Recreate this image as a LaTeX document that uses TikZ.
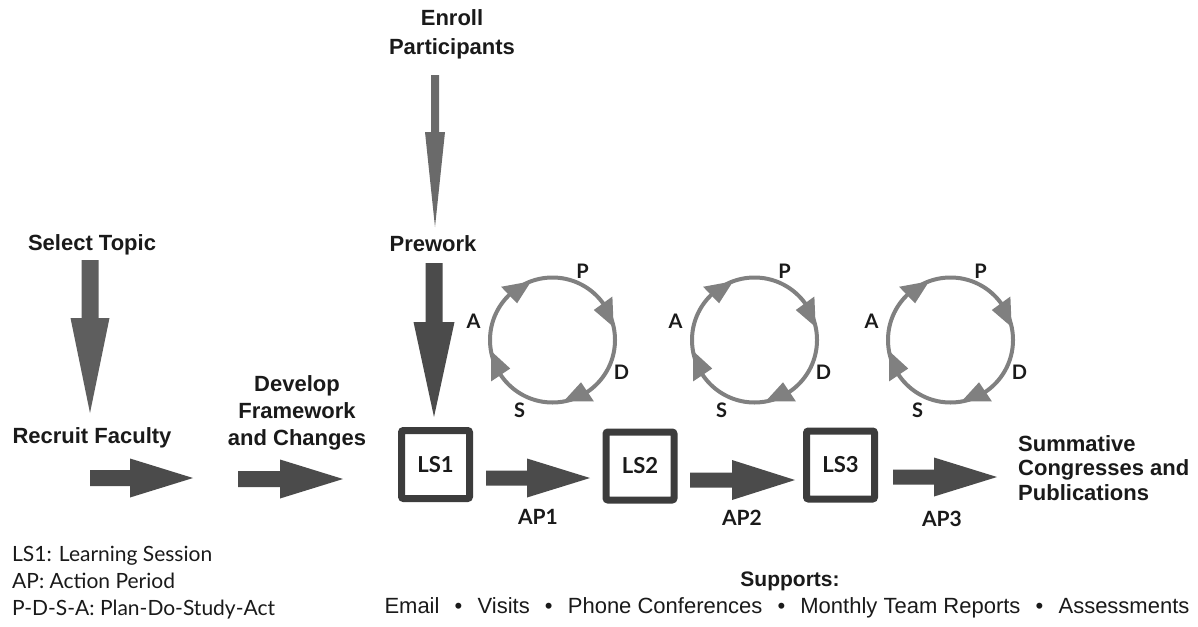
\documentclass[tikz,border=0pt]{standalone}
\usepackage{fontspec}
\setmainfont{Liberation Sans}
\newfontfamily\lato{Lato}
\usetikzlibrary{calc}
\definecolor{arrowdark}{HTML}{4B4B4B}
\definecolor{arrowmid}{HTML}{5E5E5E}
\definecolor{arrowlight}{HTML}{6A6A6A}
\definecolor{cycgray}{HTML}{808080}
\definecolor{boxgray}{HTML}{3C3C3C}
\definecolor{txt}{HTML}{1A1A1A}
% #1 style, #2 tail, #3 tip, #4 shaft half width, #5 head half width, #6 head length
\newcommand\fatarrow[6]{%
  \path ($(#3)!#6!(#2)$) coordinate (fa-neck);
  \fill[#1] ($(#2)!#4!90:(#3)$) -- ($(fa-neck)!#4!90:(#3)$) -- ($(fa-neck)!#5!90:(#3)$)
    -- (#3) -- ($(fa-neck)!#5!-90:(#3)$) -- ($(fa-neck)!#4!-90:(#3)$)
    -- ($(#2)!#4!-90:(#3)$) -- cycle;}
% #1 centre, #2 tip angle, #3 base angle
\newcommand\cychead[3]{%
  \fill[cycgray] ($(#1)+(#2:62.5pt)$) -- ($(#1)+(#3:51pt)$) -- ($(#1)+(#3:74pt)$) -- cycle;}
\newcommand\supsep{\hspace{6pt plus 1fil}\textbullet\hspace{6pt plus 1fil}}
\tikzset{
  heavy/.style={font=\fontsize{22}{29}\selectfont\bfseries, text=txt, inner sep=0pt},
  letter/.style={font=\lato\fontsize{20}{24}\selectfont\bfseries, text=txt, inner sep=0pt},
  aplabel/.style={font=\lato\fontsize{21}{24}\selectfont\bfseries, text=txt, inner sep=0pt},
  lsbox/.style={draw=boxgray, line width=7pt, rounded corners=2pt, fill=white,
    minimum width=68pt, minimum height=68pt, inner sep=0pt,
    font=\lato\fontsize{22}{26}\selectfont\bfseries, text=txt},
  cycle/.style={draw=cycgray, line width=4pt},
}
\begin{document}
\begin{tikzpicture}[x=1pt, y=-1pt]
\useasboundingbox (0,0) rectangle (1198,626);
\fill[white] (0,0) rectangle (1198,626);

% text nodes
\node[heavy, align=center] (enroll) at (452,34) {Enroll\\Participants};
\node[heavy] (prework) at (433,244) {Prework};
\node[heavy] (select) at (92,245) {Select Topic};
\node[heavy] (recruit) at (92,438) {Recruit Faculty};
\node[heavy, align=center, font=\fontsize{22}{27}\selectfont\bfseries] (develop) at (297,413) {Develop\\Framework\\and Changes};
\node[heavy, align=left, anchor=west, font=\fontsize{22}{24.5}\selectfont\bfseries] (summ) at (1018,468) {Summative\\Congresses and\\Publications};

% LS boxes
\node[lsbox] (ls1) at (435.5,464.5) {LS1};
\node[lsbox] (ls2) at (640,466) {LS2};
\node[lsbox] (ls3) at (840.5,465) {LS3};

% AP labels
\node[aplabel] (ap1) at (538,517) {AP1};
\node[aplabel] (ap2) at (742,518) {AP2};
\node[aplabel] (ap3) at (942,519) {AP3};

% arrow coordinates
\coordinate (enroll-t) at (435,75);   \coordinate (enroll-h) at (435,227);
\coordinate (prework-t) at (434,263); \coordinate (prework-h) at (434,417);
\coordinate (select-t) at (90,260);   \coordinate (select-h) at (90,413);
\coordinate (r1-t) at (90,478);       \coordinate (r1-h) at (193,478);
\coordinate (r2-t) at (238,479);      \coordinate (r2-h) at (343,479);
\coordinate (a1-t) at (486,478);      \coordinate (a1-h) at (590,478);
\coordinate (a2-t) at (690,480);      \coordinate (a2-h) at (795,480);
\coordinate (a3-t) at (893,477);      \coordinate (a3-h) at (997,477);

\fatarrow{arrowlight}{enroll-t}{enroll-h}{4pt}{10pt}{95pt}
\fatarrow{arrowdark}{prework-t}{prework-h}{8.5pt}{20.5pt}{95pt}
\fatarrow{arrowmid}{select-t}{select-h}{8.5pt}{19.5pt}{95pt}
\fatarrow{arrowdark}{r1-t}{r1-h}{8pt}{19.5pt}{63pt}
\fatarrow{arrowdark}{r2-t}{r2-h}{8pt}{19.5pt}{63pt}
\fatarrow{arrowdark}{a1-t}{a1-h}{7.5pt}{19.5pt}{63pt}
\fatarrow{arrowdark}{a2-t}{a2-h}{7.5pt}{20pt}{63pt}
\fatarrow{arrowdark}{a3-t}{a3-h}{7.5pt}{19.5pt}{63pt}

% PDSA cycles
\foreach \i/\cx in {1/552.5, 2/754.5, 3/950.5} {
  \coordinate (c\i) at (\cx,340);
  \draw[cycle] (c\i) circle[radius=62.5pt];
  \cychead{c\i}{110}{134}
  \cychead{c\i}{12}{36}
  \cychead{c\i}{-80}{-56}
  \cychead{c\i}{190}{214}
  \node[letter] (p\i) at ($(c\i)+(30,-69)$) {P};
  \node[letter] (a\i) at ($(c\i)+(-79,-19)$) {A};
  \node[letter] (d\i) at ($(c\i)+(69,32)$) {D};
  \node[letter] (s\i) at ($(c\i)+(-33,70)$) {S};
}

% legend
\node[anchor=west, align=left, inner sep=0pt, text=txt, font=\lato\fontsize{21}{27}\selectfont] (legend) at (12,583)
  {LS1: Learning Session\\AP: Action Period\\P-D-S-A: Plan-Do-Study-Act};

% supports
\node[inner sep=0pt, text=txt, font=\fontsize{21}{24}\selectfont\bfseries] (supports) at (790,581) {Supports:};
\node[inner sep=0pt, text=txt, font=\fontsize{22}{24}\selectfont] (suplist) at (787,608)
  {\makebox[805pt][s]{Email\supsep Visits\supsep Phone Conferences\supsep Monthly Team Reports\supsep Assessments}};
\end{tikzpicture}
\end{document}
